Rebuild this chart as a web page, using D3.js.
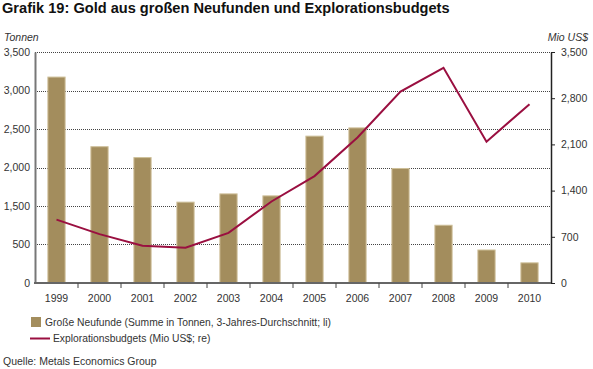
<!DOCTYPE html>
<html>
<head>
<meta charset="utf-8">
<script src="https://cdn.jsdelivr.net/npm/d3@7"></script>
<style>
  body { margin: 0; background: #fff; }
  svg { display: block; font-family: "Liberation Sans", Arial, sans-serif; }
</style>
</head>
<body>
<div id="chart"></div>
<script>
// Daten
const years = ['1999', '2000', '2001', '2002', '2003', '2004', '2005', '2006', '2007', '2008', '2009', '2010'];
const neufunde = [3120, 2065, 1900, 1225, 1350, 1320, 2225, 2350, 1735, 875, 500, 305];
const budgets = [960, 740, 565, 535, 760, 1235, 1620, 2205, 2900, 3260, 2140, 2710];
const leftTickLabels = ['0', '500', '1,500', '2,000', '2,500', '3,000', '3,500'];
const rightTicks = [0, 700, 1400, 2100, 2800, 3500];

const width = 593, height = 369;
const margin = { left: 35, right: 42, top: 52, bottom: 86 };
const x0 = margin.left, x1 = width - margin.right;
const y0 = height - margin.bottom, y1 = margin.top;

const svg = d3.select('#chart')
    .append('svg')
    .attr('width', width)
    .attr('height', height);

// Titel
svg.append('text')
    .attr('x', 2).attr('y', 13)
    .attr('font-size', '14.6px')
    .attr('font-weight', 'bold')
    .attr('fill', '#111')
    .text('Grafik 19: Gold aus großen Neufunden und Explorationsbudgets');

svg.append('text')
    .attr('x', 4).attr('y', 41)
    .attr('font-size', '10.5px').attr('font-style', 'italic').attr('fill', '#333')
    .text('Tonnen');

svg.append('text')
    .attr('x', 588).attr('y', 41)
    .attr('text-anchor', 'end')
    .attr('font-size', '10.5px').attr('font-style', 'italic').attr('fill', '#333')
    .text('Mio US$');

// Skalen
const x = d3.scaleBand().domain(years).range([x0, x1]).paddingInner(0.6).paddingOuter(0.3);
const xStep = d3.scalePoint().domain(d3.range(years.length + 1)).range([x0, x1]);
const yLeft = d3.scaleLinear().domain([0, 3500]).range([y0, y1]);
const yRight = d3.scaleLinear().domain([0, 3500]).range([y0, y1]);
const leftTickValues = leftTickLabels.map((d, i) => i * 3500 / (leftTickLabels.length - 1));

// Gitterlinien
svg.append('g')
    .selectAll('line')
    .data(leftTickValues.slice(1))
    .enter()
    .append('line')
    .attr('x1', x0).attr('x2', x1)
    .attr('y1', d => Math.round(yLeft(d)) + 0.5)
    .attr('y2', d => Math.round(yLeft(d)) + 0.5)
    .attr('stroke', '#444')
    .attr('stroke-width', 1)
    .attr('stroke-dasharray', '1,1');

// Balken
svg.append('g')
    .selectAll('rect')
    .data(neufunde)
    .enter()
    .append('rect')
    .attr('x', (d, i) => x(years[i]))
    .attr('y', d => yLeft(d))
    .attr('width', x.bandwidth())
    .attr('height', d => y0 - yLeft(d))
    .attr('fill', '#a38d5d')
    .attr('stroke', '#cdbf98')
    .attr('stroke-width', 1);

// Linie
const line = d3.line()
    .x((d, i) => x(years[i]) + x.bandwidth() / 2)
    .y(d => yRight(d));

svg.append('path')
    .datum(budgets)
    .attr('d', line)
    .attr('fill', 'none')
    .attr('stroke', '#9a0f40')
    .attr('stroke-width', 2);

// Linke Achse
const leftAxis = svg.append('g')
    .attr('transform', `translate(${x0},0)`)
    .call(d3.axisLeft(yLeft).tickValues(leftTickValues).tickSize(0).tickPadding(5)
        .tickFormat((d, i) => leftTickLabels[i]));
leftAxis.select('.domain').attr('stroke', '#777').attr('stroke-width', 2);
leftAxis.selectAll('text').attr('font-size', '10.5px').attr('fill', '#333').attr('font-family', null);

// Rechte Achse
const rightAxis = svg.append('g')
    .attr('transform', `translate(${x1},0)`)
    .call(d3.axisRight(yRight).tickValues(rightTicks).tickSize(4).tickSizeOuter(0).tickPadding(6)
        .tickFormat(d3.format(',')));
rightAxis.select('.domain').attr('stroke', '#222').attr('stroke-width', 1.5);
rightAxis.selectAll('line').attr('stroke', '#222');
rightAxis.selectAll('text').attr('font-size', '10.5px').attr('fill', '#333').attr('font-family', null);

// Untere Achse
const bottom = svg.append('g')
    .attr('transform', `translate(0,${y0})`);
bottom.append('line')
    .attr('x1', x0 - 1).attr('x2', x1)
    .attr('stroke', '#666').attr('stroke-width', 2);
bottom.selectAll('line.tick')
    .data(d3.range(1, years.length))
    .enter()
    .append('line')
    .attr('class', 'tick')
    .attr('x1', d => xStep(d)).attr('x2', d => xStep(d))
    .attr('y1', 0).attr('y2', 5)
    .attr('stroke', '#444').attr('stroke-width', 1);
bottom.selectAll('text')
    .data(years)
    .enter()
    .append('text')
    .attr('x', d => x(d) + x.bandwidth() / 2)
    .attr('y', 19)
    .attr('text-anchor', 'middle')
    .attr('font-size', '10.5px')
    .attr('fill', '#333')
    .text(d => d);

// Legende
const legend = svg.append('g');
legend.append('rect')
    .attr('x', 31).attr('y', 317).attr('width', 10).attr('height', 10)
    .attr('fill', '#a38d5d');
legend.append('text')
    .attr('x', 45).attr('y', 326)
    .attr('font-size', '10.3px').attr('fill', '#333')
    .text('Große Neufunde (Summe in Tonnen, 3-Jahres-Durchschnitt; li)');
legend.append('line')
    .attr('x1', 30).attr('x2', 50).attr('y1', 338.5).attr('y2', 338.5)
    .attr('stroke', '#9a0f40').attr('stroke-width', 2);
legend.append('text')
    .attr('x', 53).attr('y', 342)
    .attr('font-size', '10.3px').attr('fill', '#333')
    .text('Explorationsbudgets (Mio US$; re)');

// Quelle
svg.append('text')
    .attr('x', 3).attr('y', 365)
    .attr('font-size', '10.5px').attr('fill', '#333')
    .text('Quelle: Metals Economics Group');
</script>
</body>
</html>
